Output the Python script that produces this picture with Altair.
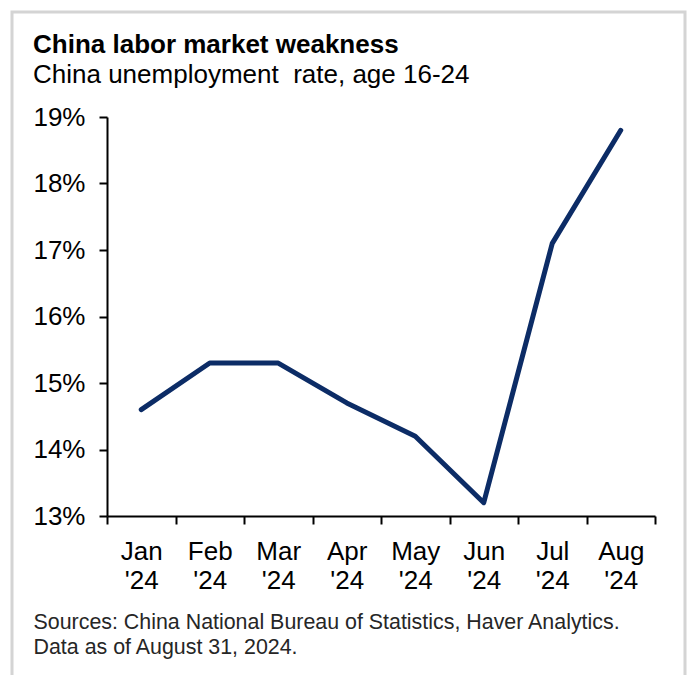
import altair as alt
import pandas as pd

months = ["Jan '24", "Feb '24", "Mar '24", "Apr '24", "May '24", "Jun '24", "Jul '24", "Aug '24"]
rates = [14.6, 15.3, 15.3, 14.7, 14.2, 13.2, 17.1, 18.8]
y_ticks = [13, 14, 15, 16, 17, 18, 19]

title_text = "China labor market weakness"
subtitle_text = "China unemployment\u00a0 rate, age 16-24"
footer_lines = ["Sources: China National Bureau of Statistics, Haver Analytics.",
                "Data as of August 31, 2024."]

df = pd.DataFrame({"month": months, "rate": rates})

FONT = "Liberation Sans"
W, H = 548, 399
LEFT, TOP = 107, 117

border = alt.Chart(alt.Data(values=[{}])).mark_rect(
    fill=None, stroke="#d4d4d4", strokeWidth=3
).encode(
    x=alt.value(12 - LEFT), x2=alt.value(685 - LEFT),
    y=alt.value(12 - TOP), y2=alt.value(700 - TOP)
)

line = alt.Chart(df).mark_line(
    color="#0c2c66", strokeWidth=5, strokeCap="round", strokeJoin="round"
).encode(
    x=alt.X("month:N", sort=months, bandPosition=0.5,
            scale=alt.Scale(type="band", paddingInner=0, paddingOuter=0),
            axis=alt.Axis(
                title=footer_lines, titleFont=FONT, titleFontSize=21.4,
                titleFontWeight="normal", titleColor="#262626",
                titleAnchor="start", titleAlign="left", titleBaseline="alphabetic",
                titleX=33 - LEFT, titleY=628 - (TOP + H), titleLineHeight=25,
                labelExpr="split(datum.label, ' ')", labelFont=FONT,
                labelFontSize=26, labelColor="#000000", labelLineHeight=29,
                labelPadding=14, labelAngle=0,
                tickBand="extent", tickSize=8, tickWidth=2, tickColor="#000000",
                domainColor="#000000", domainWidth=2, grid=False)),
    y=alt.Y("rate:Q", scale=alt.Scale(domain=[13, 19], nice=False, zero=False),
            axis=alt.Axis(values=y_ticks, labelExpr="datum.value + '%'",
                          title=None, labelFont=FONT, labelFontSize=26,
                          labelColor="#000000", labelPadding=14,
                          tickSize=8, tickWidth=2, tickColor="#000000",
                          domainColor="#000000", domainWidth=2, grid=False))
)

chart = alt.layer(border, line).properties(
    width=W, height=H,
    autosize=alt.AutoSizeParams(type="none"),
    padding={"left": LEFT, "top": TOP, "right": 688 - LEFT - W, "bottom": 675 - TOP - H},
    title=alt.TitleParams(
        text=title_text, subtitle=subtitle_text, anchor="start", frame="group",
        dx=33 - LEFT, font=FONT, fontSize=26, fontWeight="bold", color="#000000",
        subtitleFont=FONT, subtitleFontSize=26, subtitleColor="#000000",
        subtitlePadding=4, offset=-77
    ),
    background="white"
).configure_view(stroke=None)

chart.save("out.html", embed_options={"renderer": "svg", "actions": False})
